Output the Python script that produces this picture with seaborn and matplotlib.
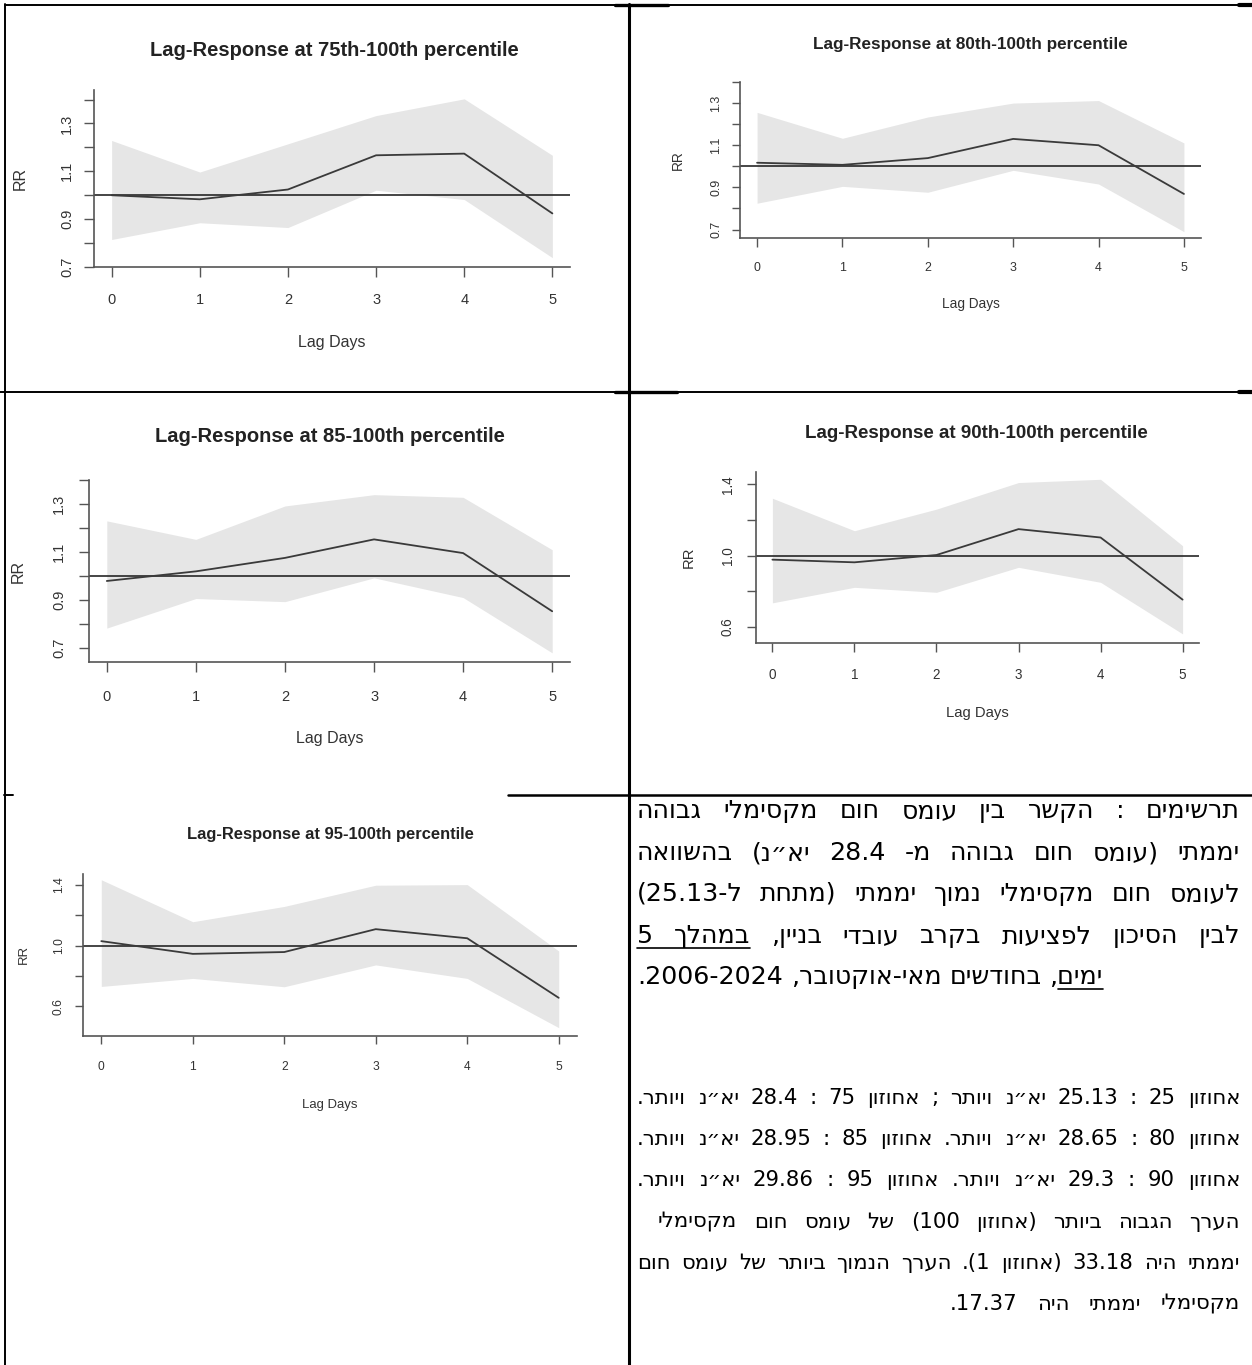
import matplotlib
matplotlib.use('Agg')
import matplotlib.pyplot as plt
from matplotlib.lines import Line2D
import seaborn as sns

W, H = 1252, 1365

# Lag days on the x axis (same for every panel)
lag_days = [0, 1, 2, 3, 4, 5]

# RR estimate with lower / upper CI
rr_75 = [1.000, 0.983, 1.024, 1.167, 1.174, 0.924]
lo_75 = [0.815, 0.885, 0.865, 1.021, 0.982, 0.739]
hi_75 = [1.229, 1.097, 1.215, 1.333, 1.403, 1.167]

rr_80 = [1.017, 1.007, 1.039, 1.130, 1.100, 0.869]
lo_80 = [0.825, 0.905, 0.877, 0.981, 0.916, 0.690]
hi_80 = [1.256, 1.133, 1.234, 1.300, 1.312, 1.111]

rr_85 = [0.980, 1.020, 1.076, 1.153, 1.096, 0.854]
lo_85 = [0.784, 0.907, 0.894, 0.993, 0.911, 0.681]
hi_85 = [1.230, 1.153, 1.292, 1.339, 1.328, 1.110]

rr_90 = [0.978, 0.963, 1.004, 1.149, 1.102, 0.754]
lo_90 = [0.736, 0.823, 0.795, 0.935, 0.851, 0.562]
hi_90 = [1.322, 1.140, 1.261, 1.410, 1.428, 1.056]

rr_95 = [1.029, 0.945, 0.957, 1.108, 1.048, 0.655]
lo_95 = [0.730, 0.783, 0.728, 0.872, 0.783, 0.458]
hi_95 = [1.434, 1.157, 1.258, 1.398, 1.402, 0.964]

titles = [
    'Lag-Response at 75th-100th percentile',
    'Lag-Response at 80th-100th percentile',
    'Lag-Response at 85-100th percentile',
    'Lag-Response at 90th-100th percentile',
    'Lag-Response at 95-100th percentile',
]

yticks_a = [0.7, 0.8, 0.9, 1.0, 1.1, 1.2, 1.3, 1.4]
ylabels_a = ['0.7', '', '0.9', '', '1.1', '', '1.3', '']
yticks_b = [0.6, 0.8, 1.0, 1.2, 1.4]
ylabels_b = ['0.6', '', '1.0', '', '1.4']

# Hebrew caption (logical order)
caption_main = [
    'תרשימים :  הקשר בין עומס חום מקסימלי גבוהה',
    'יממתי (עומס חום גבוהה מ- 28.4 יא״נ) בהשוואה',
    'לעומס חום מקסימלי נמוך יממתי (מתחת ל-25.13)',
    'לבין הסיכון לפציעות בקרב עובדי בניין, במהלך 5',
    'ימים, בחודשים מאי-אוקטובר, 2006-2024.',
]
caption_notes = [
    'אחוזון 25 : 25.13 יא״נ ויותר ; אחוזון 75 : 28.4 יא״נ ויותר.',
    'אחוזון 80 : 28.65 יא״נ ויותר. אחוזון 85 : 28.95 יא״נ ויותר.',
    'אחוזון 90 : 29.3 יא״נ ויותר. אחוזון 95 : 29.86 יא״נ ויותר.',
    'הערך הגבוה ביותר (אחוזון 100) של עומס חום מקסימלי',
    'יממתי היה 33.18 (אחוזון 1). הערך הנמוך ביותר של עומס חום',
    'מקסימלי יממתי היה 17.37.',
]

# layout of each panel (pixels in the page)
panels = [
    dict(rr=rr_75, lo=lo_75, hi=hi_75, box=(94, 90, 570, 267), ylim=(0.70, 1.44),
         yt=(yticks_a, ylabels_a), title_xy=(334, 50), s=1.0, xt_off=31, yt_off=28, xlab_y=342, ylab_x=20),
    dict(rr=rr_80, lo=lo_80, hi=hi_80, box=(740, 82, 1201, 238), ylim=(0.66, 1.34),
         yt=(yticks_a, ylabels_a), title_xy=(970, 45), s=0.85, xt_off=28, yt_off=25, xlab_y=304, ylab_x=678),
    dict(rr=rr_85, lo=lo_85, hi=hi_85, box=(89, 480, 570, 662), ylim=(0.643, 1.366),
         yt=(yticks_a, ylabels_a), title_xy=(330, 437), s=1.0, xt_off=33, yt_off=31, xlab_y=738, ylab_x=18),
    dict(rr=rr_90, lo=lo_90, hi=hi_90, box=(756, 472, 1199, 643), ylim=(0.511, 1.469),
         yt=(yticks_b, ylabels_b), title_xy=(976, 433), s=0.93, xt_off=30, yt_off=29, xlab_y=713, ylab_x=689),
    dict(rr=rr_95, lo=lo_95, hi=hi_95, box=(83, 874, 577, 1036), ylim=(0.403, 1.472),
         yt=(yticks_b, ylabels_b), title_xy=(330, 834), s=0.82, xt_off=29, yt_off=25, xlab_y=1105, ylab_x=24),
]

sns.set_style('ticks')
plt.rcParams['font.family'] = ['Liberation Sans', 'DejaVu Sans']
HEB = ['DejaVu Sans']

fig = plt.figure(figsize=(W / 100, H / 100), dpi=100)
fig.patch.set_facecolor('white')

for p, title in zip(panels, titles):
    x0, y0, x1, y1 = p['box']
    s = p['s']
    ax = fig.add_axes([x0 / W, 1 - y1 / H, (x1 - x0) / W, (y1 - y0) / H])
    ax.set_facecolor('white')
    ax.fill_between(lag_days, p['lo'], p['hi'], color='#e6e6e6', linewidth=0, zorder=1)
    sns.lineplot(x=lag_days, y=p['rr'], ax=ax, color='#3a3a3a', linewidth=1.3, zorder=3)
    ax.axhline(1.0, color='#262626', linewidth=1.2, zorder=2)
    ax.set_xlim(-0.2, 5.2)
    ax.set_ylim(*p['ylim'])
    ax.set_xticks(lag_days, [str(d) for d in lag_days])
    ax.set_yticks(p['yt'][0], p['yt'][1])
    for side in ['top', 'right']:
        ax.spines[side].set_visible(False)
    for side in ['left', 'bottom']:
        ax.spines[side].set_color('#555555')
        ax.spines[side].set_linewidth(1.2)

    fs = 10.5 * s
    fpx = fs * 100 / 72
    tick_px = 10 * s
    ax.tick_params(axis='both', length=tick_px * 0.72, width=1.0, color='#555555',
                   labelcolor='#333333', labelsize=fs)
    ax.tick_params(axis='x', pad=max(p['xt_off'] - tick_px - 0.36 * fpx, 1) * 0.72)
    ax.tick_params(axis='y', pad=max(p['yt_off'] - tick_px - 0.57 * fpx, 1) * 0.72, labelrotation=90)
    for lab in ax.get_yticklabels():
        lab.set_va('center')

    ax.set_xlabel('Lag Days', fontsize=11.5 * s, color='#333333')
    ax.set_ylabel('RR', fontsize=11.5 * s, color='#333333')
    ax.xaxis.set_label_coords(0.5, -(p['xlab_y'] - y1) / (y1 - y0))
    ax.xaxis.label.set_va('center')
    ax.yaxis.set_label_coords((p['ylab_x'] - x0) / (x1 - x0), 0.5)
    ax.yaxis.label.set_va('center')

    tx, ty = p['title_xy']
    fig.text(tx / W, 1 - ty / H, title, ha='center', va='center',
             fontsize=14.5 * s, fontweight='bold', color='#222222')


# table frame
def hline(y, xa, xb, lw=1.4):
    fig.add_artist(Line2D([xa / W, xb / W], [1 - y / H, 1 - y / H], color='black',
                          linewidth=lw, transform=fig.transFigure))


def vline(x, ya, yb, lw=1.4):
    fig.add_artist(Line2D([x / W, x / W], [1 - ya / H, 1 - yb / H], color='black',
                          linewidth=lw, transform=fig.transFigure))


hline(5, 5, 1252)
hline(5, 615, 668, lw=2.4)
hline(5, 1239, 1252, lw=3)
vline(5, 4, 1365)
vline(629, 4, 1365, lw=2.2)
hline(392, 0, 1252)
hline(392, 615, 677, lw=2.4)
hline(392, 1239, 1252, lw=3)
hline(795, 4, 13)
hline(795, 508, 1252, lw=1.8)

# ---- Hebrew caption: simple right-to-left reordering of each line ----
MIRROR = {'(': ')', ')': '(', '[': ']', ']': '['}


def rtl_visual(s):
    def cls(c):
        if '\u0590' <= c <= '\u05ff':
            return 'R'
        if c.isdigit():
            return 'EN'
        if c.isalpha():
            return 'L'
        if c in '.,:':
            return 'CS'
        if c in '+-':
            return 'ES'
        return 'N'
    n = len(s)
    t = [cls(c) for c in s]
    for i in range(1, n - 1):
        if t[i] in ('CS', 'ES') and t[i - 1] == 'EN' and t[i + 1] == 'EN':
            t[i] = 'EN'
    t = ['N' if x in ('CS', 'ES') else x for x in t]
    strong = ['R' if x == 'EN' else x for x in t]
    lev = [1 if x == 'R' else 2 if x in ('EN', 'L') else 0 for x in t]
    i = 0
    while i < n:
        if t[i] == 'N':
            j = i
            while j < n and t[j] == 'N':
                j += 1
            left = strong[i - 1] if i > 0 else 'R'
            right = strong[j] if j < n else 'R'
            for k in range(i, j):
                lev[k] = 2 if (left == 'L' and right == 'L') else 1
            i = j
        else:
            i += 1
    chars = [MIRROR.get(c, c) if lev[k] == 1 else c for k, c in enumerate(s)]
    out = []
    i = 0
    while i < n:
        j = i
        hi = lev[i] >= 2
        while j < n and (lev[j] >= 2) == hi:
            j += 1
        seg = chars[i:j]
        out.extend(seg[::-1] if hi else seg)
        i = j
    return ''.join(out[::-1])


renderer = fig.canvas.get_renderer()


def text_width(txt, size):
    t = fig.text(0, 0, txt, fontsize=size, family=HEB)
    w = t.get_window_extent(renderer).width
    t.remove()
    return w


def space_width(size):
    return text_width('א א', size) - text_width('אא', size)


def natural_width(line, size):
    words = rtl_visual(line).split()
    return sum(text_width(w, size) for w in words) + space_width(size) * (len(words) - 1)


def hebrew_line(line, base_y, size, span, anchor, underline=()):
    left, right = span
    words = rtl_visual(line).split()
    n = len(words)
    widths = [text_width(w, size) for w in words]
    total = sum(widths)
    space = space_width(size)
    gap = (right - left - total) / (n - 1) if n > 1 else 0
    if gap < space:
        gap = space
    x = left if anchor == 'left' else right - total - gap * (n - 1)
    # logical word i sits at visual slot n-1-i
    ul_slots = sorted(n - 1 - i for i in underline)
    ul = []
    for i, (w, wd) in enumerate(zip(words, widths)):
        fig.text(x / W, 1 - base_y / H, w, fontsize=size, family=HEB,
                 ha='left', va='baseline', color='black')
        if i in ul_slots:
            bare = text_width(w.strip(',.'), size)
            ul.append((x + wd - bare if w.startswith((',', '.')) else x, x + wd))
        x += wd + gap
    if ul:
        uy = base_y + size * 100 / 72 * 0.2
        hline(uy, ul[0][0], ul[-1][1], lw=1.2)


# horizontal extent of each caption line on the page
main_spans = [(637, 1240), (637, 1240), (637, 1240), (637, 1240), (637, 978)]
main_anchor = ['right', 'right', 'right', 'right', 'left']
notes_spans = [(637, 1240), (637, 1240), (637, 1240), (658, 1240), (637, 1240), (950, 1240)]
notes_anchor = ['right'] * 6


def fit_size(lines, spans, factor):
    full = [(l, sp) for l, sp in zip(lines, spans) if sp == (637, 1240)]
    return factor * min(10 * (b - a) / natural_width(l, 10) for l, (a, b) in full)


main_size = fit_size(caption_main, main_spans, 0.9)
notes_size = fit_size(caption_notes, notes_spans, 0.93)

main_base = [818, 860, 901, 943, 984]
main_ul = [(), (), (), (6, 7), (0,)]
for line, by, span, anc, ul in zip(caption_main, main_base, main_spans, main_anchor, main_ul):
    hebrew_line(line, by, main_size, span, anc, ul)

notes_base = [1104, 1145, 1186, 1228, 1269, 1310]
for line, by, span, anc in zip(caption_notes, notes_base, notes_spans, notes_anchor):
    hebrew_line(line, by, notes_size, span, anc)

fig.savefig('out.png', dpi=100, facecolor='white')
